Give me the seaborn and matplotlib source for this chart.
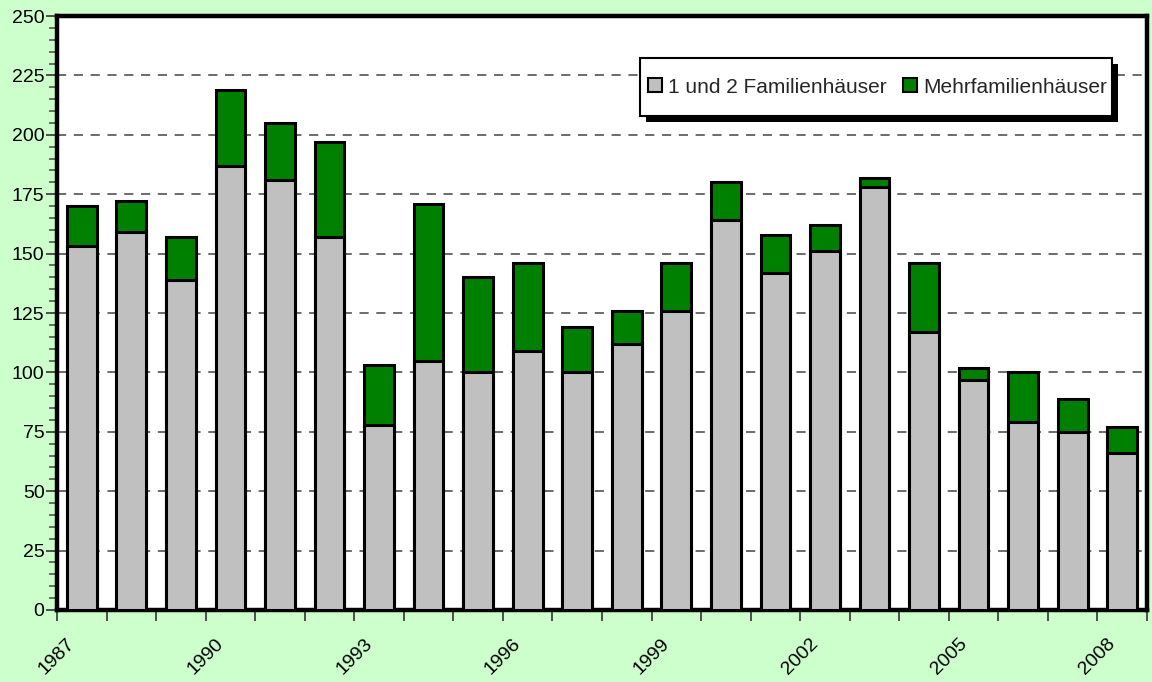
import matplotlib
matplotlib.use("Agg")
import matplotlib.pyplot as plt
from matplotlib.patches import Patch, Rectangle
from matplotlib.ticker import MultipleLocator, FixedLocator
import seaborn as sns
import pandas as pd

# Baufertigstellungen: Wohngebäude je Jahr
years = list(range(1987, 2009))
ein_zwei_fam = [153, 159, 139, 187, 181, 157, 78, 105, 100, 109, 100,
                112, 126, 164, 142, 151, 178, 117, 97, 79, 75, 66]
mehr_fam = [17, 13, 18, 32, 24, 40, 25, 66, 40, 37, 19,
            14, 20, 16, 16, 11, 4, 29, 5, 21, 14, 11]
series_labels = ["1 und 2 Familienhäuser", "Mehrfamilienhäuser"]
tick_years = [1987, 1990, 1993, 1996, 1999, 2002, 2005, 2008]

df = pd.DataFrame({
    "Jahr": [str(y) for y in years],
    "EZ": ein_zwei_fam,
    "MF": mehr_fam,
})
df["Gesamt"] = df["EZ"] + df["MF"]

sns.set_theme(style="white")
plt.rcParams["font.family"] = ["Liberation Sans", "DejaVu Sans"]

bg = "#CCFFCC"
gray = "#C0C0C0"
green = "#008000"

fig = plt.figure(figsize=(11.52, 6.82), dpi=100, facecolor=bg)
ax = fig.add_axes([0.0495, 0.1056, 0.9462, 0.8709])
ax.set_facecolor("white")

# stacked bars: total in green, single/two-family part in gray on top of it
sns.barplot(data=df, x="Jahr", y="Gesamt", color=green, saturation=1,
            width=0.6, edgecolor="black", linewidth=2.2, ax=ax, zorder=3)
sns.barplot(data=df, x="Jahr", y="EZ", color=gray, saturation=1,
            width=0.6, edgecolor="black", linewidth=2.2, ax=ax, zorder=3)

n = len(years)
ax.set_xlim(-0.5, n - 0.5)
ax.set_ylim(0, 250)

# x ticks at the year boundaries, labelled every third year
xt = [i - 0.5 for i in range(n + 1)]
ax.xaxis.set_major_locator(FixedLocator(xt))
xlabels = []
for i in range(n + 1):
    y = 1987 + i
    xlabels.append(str(y) if y in tick_years else "")
ax.set_xticklabels(xlabels, rotation=45, ha="center", fontsize=14, color="black")
ax.tick_params(axis="x", direction="out", length=8, width=1.2, color="#333333",
               pad=10, bottom=True)

ax.yaxis.set_major_locator(MultipleLocator(25))
ax.yaxis.set_minor_locator(MultipleLocator(5))
ax.tick_params(axis="y", which="major", direction="out", length=8, width=1.2,
               color="#333333", labelsize=14, labelcolor="black", pad=1, left=True)
ax.tick_params(axis="y", which="minor", direction="out", length=6, width=1.2,
               color="#555555", left=True)

ax.set_xlabel("")
ax.set_ylabel("")

ax.grid(axis="y", which="major", linestyle=(0, (6, 5)), color="#444444",
        linewidth=1.1, zorder=0)
ax.set_axisbelow(True)

for side in ["left", "right", "top", "bottom"]:
    ax.spines[side].set_visible(True)
    ax.spines[side].set_color("black")
    ax.spines[side].set_linewidth(3.2)

handles = [Patch(facecolor=gray, edgecolor="black", linewidth=1.5),
           Patch(facecolor=green, edgecolor="black", linewidth=1.5)]
leg = ax.legend(handles, series_labels, ncol=2, loc="center right",
                bbox_to_anchor=(0.9633, 0.8805), borderaxespad=0,
                fontsize=15, frameon=False, borderpad=0,
                handlelength=0.65, handleheight=0.65, handletextpad=0.3,
                columnspacing=0.8)
leg.set_zorder(7)

# framed box with a hard drop shadow around the legend entries
fig.canvas.draw()
bb = leg.get_window_extent()
inv = ax.transAxes.inverted()
yc = (bb.y0 + bb.y1) / 2
fx0, fx1 = bb.x0 - 8, bb.x1 + 5
fy0, fy1 = yc - 29, yc + 29
for dx, dy, fc, ec, z in [(6, -6, "black", "none", 5.5),
                          (0, 0, "white", "black", 5.8)]:
    (x0, y0) = inv.transform((fx0 + dx, fy0 + dy))
    (x1, y1) = inv.transform((fx1 + dx, fy1 + dy))
    ax.add_artist(Rectangle((x0, y0), x1 - x0, y1 - y0, transform=ax.transAxes,
                            facecolor=fc, edgecolor=ec, linewidth=1.5,
                            zorder=z, clip_on=False))

fig.savefig("out.png", dpi=100, facecolor=bg)
